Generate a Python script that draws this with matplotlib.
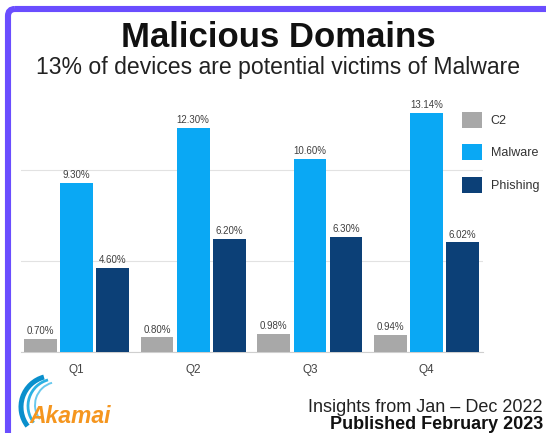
import numpy as np
import matplotlib
matplotlib.use("Agg")
import matplotlib.pyplot as plt
from matplotlib.patches import Patch, Arc, FancyBboxPatch

plt.rcParams['font.family'] = ['Liberation Sans', 'DejaVu Sans']

# data
quarters = ['Q1', 'Q2', 'Q3', 'Q4']
series = ['C2', 'Malware', 'Phishing']
c2 = [0.70, 0.80, 0.98, 0.94]
malware = [9.30, 12.30, 10.60, 13.14]
phishing = [4.60, 6.20, 6.30, 6.02]
colors = ['#a8a8a8', '#0aa8f4', '#0c4077']

fig = plt.figure(figsize=(5.46, 4.33), dpi=100)
fig.patch.set_facecolor('white')

# purple frame + logo drawn on a pixel-coordinate overlay
ov = fig.add_axes([0, 0, 1, 1], zorder=-1)
ov.set_xlim(0, 546)
ov.set_ylim(433, 0)
ov.axis('off')
ov.add_patch(FancyBboxPatch((8, 9), 700, 600, boxstyle='round,pad=0,rounding_size=7',
                            fill=False, edgecolor='#6a4dff', lw=4.4))
for (cx, cy, r, lw, col) in [(52, 407, 31, 3.6, '#0a8fcc'), (55, 406, 27, 2.0, '#2bb1e3'),
                             (58, 405, 23, 1.4, '#69c9ee')]:
    ov.add_patch(Arc((cx, cy), 2 * r, 2 * r, theta1=142, theta2=255, color=col, lw=lw))
fig.text(0.054, 0.024, 'Akamai', fontsize=16.5, fontweight='bold', fontstyle='italic',
         color='#f5961f', ha='left', va='baseline')

# titles
fig.text(0.509, 0.8926, 'Malicious Domains', fontsize=25, fontweight='bold',
         ha='center', va='baseline', color='#111111')
fig.text(0.51, 0.828, '13% of devices are potential victims of Malware', fontsize=16.6,
         ha='center', va='baseline', color='#222222')
fig.text(0.9945, 0.049, 'Insights from Jan \u2013 Dec 2022', fontsize=13,
         ha='right', va='baseline', color='#222222')
fig.text(0.9945, 0.009, 'Published February 2023', fontsize=13, fontweight='bold',
         ha='right', va='baseline', color='#111111')

ax = fig.add_axes([0.0385, 0.187, 0.846, 0.589])
x = np.arange(len(quarters))
step = 0.31
width = 0.28
handles = []
for i, (name, vals) in enumerate(zip(series, [c2, malware, phishing])):
    bars = ax.bar(x + (i - 1) * step, vals, width, color=colors[i], zorder=3)
    ax.bar_label(bars, labels=[f'{v:.2f}%' for v in vals], padding=2,
                 fontsize=7, color='#404040')
    handles.append(Patch(facecolor=colors[i], label=name))

ax.set_xlim(-0.476, 3.483)
ax.set_ylim(0, 14)
ax.set_yticks([0, 5, 10])
ax.set_yticklabels([])
ax.yaxis.grid(True, color='#e2e2e2', lw=0.8, zorder=0)
ax.set_xticks(x)
ax.set_xticklabels(quarters, fontsize=8.5, color='#444444')
ax.tick_params(length=0, pad=8.5)
for s in ['top', 'right', 'left']:
    ax.spines[s].set_visible(False)
ax.spines['bottom'].set_color('#cfcfcf')
ax.spines['bottom'].set_linewidth(0.8)

fig.legend(handles=handles, loc='upper left', bbox_to_anchor=(0.846, 0.7413),
           frameon=False, fontsize=9, handlelength=1.6, handleheight=1.6,
           handletextpad=0.7, labelspacing=1.3, borderpad=0, borderaxespad=0,
           labelcolor='#333333')

fig.savefig('out.png', dpi=100)
